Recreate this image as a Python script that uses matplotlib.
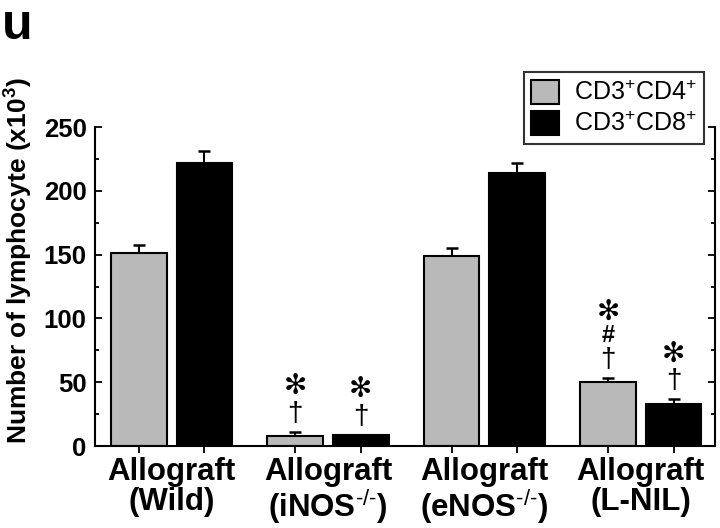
import numpy as np
import matplotlib
matplotlib.use("Agg")
import matplotlib.pyplot as plt

plt.rcParams['font.family'] = ['Liberation Sans', 'DejaVu Sans']
plt.rcParams['mathtext.fontset'] = 'custom'
plt.rcParams['mathtext.rm'] = 'Liberation Sans'
plt.rcParams['mathtext.bf'] = 'Liberation Sans:bold'

groups = ["Allograft\n(Wild)", "Allograft\n(iNOS$^{\\text{-/-}}$)",
          "Allograft\n(eNOS$^{\\text{-/-}}$)", "Allograft\n(L-NIL)"]
series = ["CD3$^{+}$CD4$^{+}$", "CD3$^{+}$CD8$^{+}$"]
cd4 = [151, 8, 149, 50]
cd4_err = [6.5, 3, 6.5, 3]
cd8 = [222, 8.5, 214, 33]
cd8_err = [9.5, 0, 8, 3.5]
cd4_marks = [[], ["\u2020", "\u273b"], [], ["\u2020", "#", "\u273b"]]
cd8_marks = [[], ["\u2020", "\u273b"], [], ["\u2020", "\u273b"]]

gray = "#b9b9b9"
x = np.arange(len(groups))
off = 0.21
w = 0.355

fig = plt.figure(figsize=(7.2, 5.28), dpi=100)
ax = fig.add_axes([95 / 720, 82 / 528, 620 / 720, 319 / 528])

ax.bar(x - off, cd4, w, color=gray, edgecolor="black", linewidth=1.5,
       label=series[0], zorder=2)
ax.bar(x + off, cd8, w, color="black", edgecolor="black", linewidth=1.5,
       label=series[1], zorder=2)
ax.errorbar(x - off, cd4, yerr=[np.zeros(4), cd4_err], fmt="none",
            ecolor="black", elinewidth=1.5, capsize=4.5, capthick=1.8, zorder=1)
ax.errorbar(x + off, cd8, yerr=[np.zeros(4), cd8_err], fmt="none",
            ecolor="black", elinewidth=1.5, capsize=4.5, capthick=1.8, zorder=1)

# significance marks stacked above the bars
for xs, vals, errs, marks in [(x - off, cd4, cd4_err, cd4_marks),
                              (x + off, cd8, cd8_err, cd8_marks)]:
    for xi, v, e, mk in zip(xs, vals, errs, marks):
        steps = [13, 31, 48] if len(mk) == 3 else [13, 33]
        for i, m in enumerate(mk):
            if m == "\u273b":
                fs, fam, fw = 20, ['DejaVu Sans'], "bold"
            elif m == "#":
                fs, fam, fw = 17, ['Liberation Sans'], "bold"
            else:
                fs, fam, fw = 20, ['Liberation Sans'], "normal"
            ax.annotate(m, (xi, v + e), xytext=(0, steps[i]), textcoords="offset points",
                        ha="center", va="center", fontsize=fs, fontweight=fw,
                        family=fam)

ax.set_xlim(-0.49, 3.475)
ax.set_ylim(0, 250)
ax.set_yticks(np.arange(0, 251, 50))
ax.set_yticks(np.arange(0, 251, 25), minor=True)
ax.set_yticklabels([str(v) for v in range(0, 251, 50)], fontsize=18.5, fontweight="bold")
ax.tick_params(axis="y", which="both", direction="in", right=True, width=1.3)
ax.tick_params(axis="y", which="major", length=5, pad=6)
ax.tick_params(axis="y", which="minor", length=3)

ax.set_xticks(np.concatenate([x - off, x + off]))
ax.set_xticklabels([])
ax.tick_params(axis="x", which="major", direction="out", length=5, width=1.3)
ax.set_xticks(x, minor=True)
ax.set_xticklabels(groups, minor=True, fontsize=22.5, fontweight="bold", linespacing=1.0)
ax.tick_params(axis="x", which="minor", length=0, pad=8)

ax.spines["top"].set_visible(False)
for s in ["left", "bottom", "right"]:
    ax.spines[s].set_linewidth(1.5)

ax.set_ylabel("Number of lymphocyte (x10$\\mathbf{^{3}}$)", fontsize=19,
              fontweight="bold")
ax.yaxis.set_label_coords(-0.097, 0.58)

leg = ax.legend(loc="upper right", bbox_to_anchor=(704 / 720, 1 - 72 / 528),
                bbox_transform=fig.transFigure, fontsize=18, frameon=True,
                fancybox=False, edgecolor="black", borderaxespad=0,
                handlelength=1.1, handleheight=1.1, handletextpad=0.6,
                labelspacing=0.22, borderpad=0.3)
leg.get_frame().set_linewidth(1.5)

fig.text(0.003, 0.995, "u", fontsize=36, fontweight="bold", va="top", ha="left")

fig.savefig("out.png", dpi=100)
